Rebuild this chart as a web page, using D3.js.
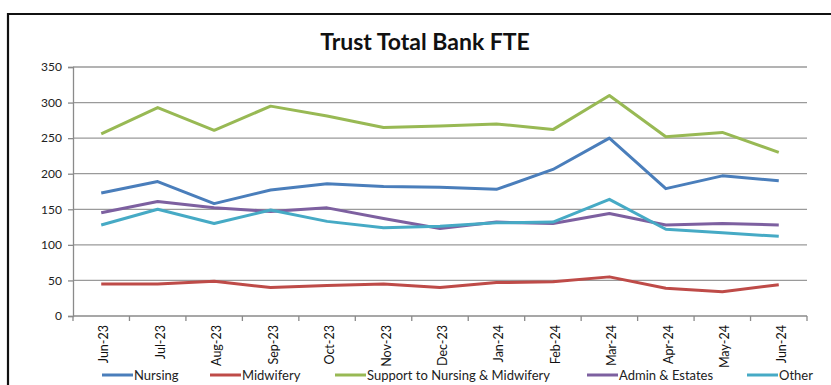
<!DOCTYPE html>
<html>
<head>
<meta charset="utf-8">
<script src="https://cdn.jsdelivr.net/npm/d3@7/dist/d3.min.js"></script>
<style>
  html, body { margin: 0; padding: 0; background: #fff; }
  svg { display: block; }
  text { font-family: Lato, "Open Sans", sans-serif; }
</style>
</head>
<body>
<svg id="chart" width="831" height="385"></svg>
<script>
// Monthly bank FTE by staff group
const months = ["Jun-23","Jul-23","Aug-23","Sep-23","Oct-23","Nov-23","Dec-23",
                "Jan-24","Feb-24","Mar-24","Apr-24","May-24","Jun-24"];
const nursing   = [173, 189, 158, 177, 186, 182, 181, 178, 206, 250, 179, 197, 190];
const midwifery = [45, 45, 49, 40, 43, 45, 40, 47, 48, 55, 39, 34, 44];
const support   = [256, 293, 261, 295, 281, 265, 267, 270, 262, 310, 252, 258, 230];
const admin     = [145, 161, 152, 147, 152, 137, 123, 132, 130, 144, 128, 130, 128];
const other     = [128, 150, 130, 149, 133, 124, 126, 131, 132, 164, 122, 117, 112];
const yTicks    = [0, 50, 100, 150, 200, 250, 300, 350];

const seriesNames  = ["Nursing", "Midwifery", "Support to Nursing & Midwifery", "Admin & Estates", "Other"];
const seriesValues = [nursing, midwifery, support, admin, other];
const seriesColors = ["#4a7ebb", "#be4b48", "#98b954", "#7d60a0", "#46aac5"];

const svg = d3.select("#chart");

// Outer chart frame
svg.append("path")
  .attr("d", "M8,400 L8,14 L840,14")
  .attr("fill", "none")
  .attr("stroke", "#111")
  .attr("stroke-width", 2.2);

// Title
svg.append("text")
  .attr("x", 425).attr("y", 50)
  .attr("text-anchor", "middle")
  .attr("font-size", 23).attr("font-weight", "bold")
  .attr("fill", "#111")
  .text("Trust Total Bank FTE");

const x = d3.scaleBand().domain(months).range([73, 807]).padding(0);
const y = d3.scaleLinear().domain([0, 350]).range([316, 67]);
const cx = m => x(m) + x.bandwidth() / 2;

// Horizontal gridlines
svg.append("g")
  .selectAll("line")
  .data(yTicks.filter(v => v > 0))
  .join("line")
  .attr("x1", 73).attr("x2", 807)
  .attr("y1", d => y(d)).attr("y2", d => y(d))
  .attr("stroke", "#9a9a9a").attr("stroke-width", 1.3);

// Y axis
const yAxis = svg.append("g")
  .attr("transform", "translate(73,0)")
  .call(d3.axisLeft(y).tickValues(yTicks).tickSize(5).tickPadding(6));
yAxis.select(".domain").attr("stroke", "#8a8a8a").attr("stroke-width", 1.3);
yAxis.selectAll(".tick line").attr("stroke", "#8a8a8a").attr("stroke-width", 1.3);
yAxis.selectAll(".tick text")
  .attr("font-size", 12).attr("fill", "#222")
  .style("font-family", "Lato, 'Open Sans', sans-serif");

// X axis: ticks on category boundaries
const xAxisG = svg.append("g");
xAxisG.append("line")
  .attr("x1", 73).attr("x2", 807).attr("y1", 316).attr("y2", 316)
  .attr("stroke", "#8a8a8a").attr("stroke-width", 1.3);
xAxisG.selectAll("line.tk")
  .data(months.concat(["__end"]))
  .join("line").attr("class", "tk")
  .attr("x1", (d, i) => 73 + i * x.bandwidth())
  .attr("x2", (d, i) => 73 + i * x.bandwidth())
  .attr("y1", 316).attr("y2", 321)
  .attr("stroke", "#8a8a8a").attr("stroke-width", 1.3);
xAxisG.selectAll("text")
  .data(months)
  .join("text")
  .attr("transform", d => `translate(${cx(d) + 7},325) rotate(-90)`)
  .attr("text-anchor", "end")
  .attr("font-size", 12.5).attr("fill", "#111")
  .text(d => d);

// Series lines
const line = d3.line()
  .x((d, i) => cx(months[i]))
  .y(d => y(d));

svg.append("g")
  .selectAll("path")
  .data(seriesValues)
  .join("path")
  .attr("d", d => line(d))
  .attr("fill", "none")
  .attr("stroke", (d, i) => seriesColors[i])
  .attr("stroke-width", 3)
  .attr("stroke-linejoin", "round");

// Legend
const legendX = [102, 210, 335, 587, 747];
const lg = svg.append("g").selectAll("g")
  .data(seriesNames)
  .join("g")
  .attr("transform", (d, i) => `translate(${legendX[i]},375)`);
lg.append("line")
  .attr("x1", 0).attr("x2", 31).attr("y1", 0).attr("y2", 0)
  .attr("stroke", (d, i) => seriesColors[i]).attr("stroke-width", 3);
lg.append("text")
  .attr("x", 32).attr("y", 4.5)
  .attr("font-size", 13).attr("fill", "#222")
  .text(d => d);
</script>
</body>
</html>
